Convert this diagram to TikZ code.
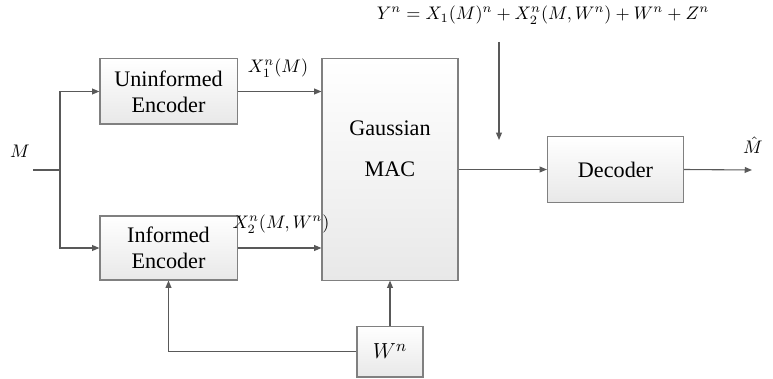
\documentclass[tikz,border=0pt]{standalone}
\usepackage{fontspec}
\setmainfont{Liberation Serif}
\usetikzlibrary{positioning,arrows.meta}

\tikzset{
  blk/.style={draw=black!50, line width=0.6pt, top color=white, bottom color=black!9, inner sep=0pt, align=center, font=\fontsize{12.2}{14.5}\selectfont},
  arr/.style={draw=black!65, line width=0.6pt, -{Triangle[length=4pt,width=3.2pt]}},
  ln/.style={draw=black!65, line width=0.6pt},
  mlbl/.style={font=\fontsize{9.8}{11}\selectfont, inner sep=1pt}
}

\begin{document}
\begin{tikzpicture}[x=0.55pt,y=-0.55pt]
\useasboundingbox (0,0) rectangle (773,379);

% blocks
\node[blk, minimum width=75.4pt, minimum height=35.8pt] (uenc) at (168.5,91.5) {Uninformed\\Encoder};
\node[blk, minimum width=75.4pt, minimum height=35.2pt] (ienc) at (168.5,248) {Informed\\Encoder};
\node[blk, minimum width=74.8pt, minimum height=121.6pt] (mac) at (390,169.5) {};
\node[align=center, font=\fontsize{12.2}{14.5}\selectfont] (maclbl) at (390,149) {Gaussian\\[8pt]MAC};
\node[blk, minimum width=74.8pt, minimum height=35.8pt] (dec) at (615.5,169.5) {Decoder};
\node[blk, minimum width=36.3pt, minimum height=28pt] (wn) at (390,351.5) {$W^n$};

% labels
\node[mlbl] (mlbl) at (20,151) {$M$};
\node[mlbl] (x1lbl) at (278,68) {$X_1^n(M)$};
\node[mlbl] (x2lbl) at (281,224) {$X_2^n(M,W^n)$};
\node[mlbl] (ylbl) at (543,15) {$Y^n=X_1(M)^n+X_2^n(M,W^n)+W^n+Z^n$};
\node[mlbl] (mhat) at (753,145) {$\hat{M}$};

\coordinate (min) at (33,170);
\coordinate (split) at (60,170);
\coordinate (ytop) at (499,42);
\coordinate (ybot) at (499,140);
\coordinate (mout) at (752,170);

% connectors
\draw[ln] (min) -- (split);
\draw[arr] (split) |- (uenc.west);
\draw[arr] (split) |- (ienc.west);
\draw[arr] (uenc.east) -- (mac.west |- uenc.east);
\draw[arr] (ienc.east) -- (mac.west |- ienc.east);
\draw[arr] (ytop) -- (ybot);
\draw[arr] (mac.east |- dec.west) -- (dec.west);
\draw[arr] (dec.east) -- (mout);
\draw[arr] (wn.north) -- (mac.south);
\draw[arr] (wn.west) -| (ienc.south);

\end{tikzpicture}
\end{document}
